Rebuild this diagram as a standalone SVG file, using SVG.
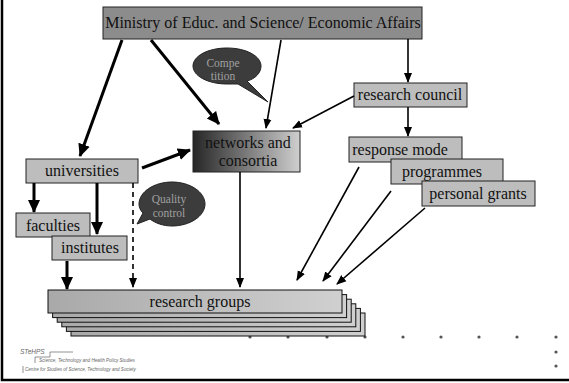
<svg xmlns="http://www.w3.org/2000/svg" width="569" height="383" viewBox="0 0 569 383">
<style>
.box{fill:#bdbdbd;stroke:#222;stroke-width:1}
.t{font-family:"Liberation Serif",serif;font-size:16px;fill:#111;text-anchor:middle}
.bt{font-family:"Liberation Serif",serif;font-size:11.5px;fill:#a0a0a0;text-anchor:middle}
.thick{stroke:#000;stroke-width:3;fill:none}
.thin{stroke:#000;stroke-width:1.6;fill:none}
.logo{font-family:"Liberation Sans",sans-serif;font-style:italic;fill:#666}
</style>
<defs>
<marker id="ah" markerUnits="userSpaceOnUse" markerWidth="14" markerHeight="14" refX="12" refY="6" orient="auto" viewBox="0 0 14 12"><path d="M0,0 L13,6 L0,12 z" fill="#000"/></marker>
<marker id="as" markerUnits="userSpaceOnUse" markerWidth="10" markerHeight="10" refX="9" refY="4" orient="auto" viewBox="0 0 10 8"><path d="M0,0 L10,4 L0,8 z" fill="#000"/></marker>
<linearGradient id="net" x1="0" y1="0" x2="1" y2="0"><stop offset="0" stop-color="#262626"/><stop offset="1" stop-color="#cfcfcf"/></linearGradient>
<linearGradient id="rg" x1="0" y1="0" x2="1" y2="0"><stop offset="0" stop-color="#a9a9a9"/><stop offset="1" stop-color="#d0d0d0"/></linearGradient>
</defs>
<rect width="569" height="383" fill="#fff"/>
<g id="frame"><path d="M2,0 V380 H569" stroke="#000" stroke-width="2.5" fill="none"/></g>
<g id="dots" fill="#555">
<circle cx="250" cy="337" r="1.6"/><circle cx="288" cy="337" r="1.6"/><circle cx="327" cy="337" r="1.6"/><circle cx="365" cy="337" r="1.6"/><circle cx="403" cy="337" r="1.6"/><circle cx="441" cy="337" r="1.6"/><circle cx="479" cy="337" r="1.6"/><circle cx="517" cy="337" r="1.6"/><circle cx="556" cy="337" r="1.6"/><circle cx="556" cy="352" r="1.6"/><circle cx="556" cy="366" r="1.6"/>
</g>
<g id="research-groups">
<rect x="71" y="313" width="294" height="23" fill="url(#rg)" stroke="#111"/>
<rect x="66.4" y="308.4" width="294" height="23" fill="url(#rg)" stroke="#111"/>
<rect x="61.8" y="303.8" width="294" height="23" fill="url(#rg)" stroke="#111"/>
<rect x="57.2" y="299.2" width="294" height="23" fill="url(#rg)" stroke="#111"/>
<rect x="52.6" y="294.6" width="294" height="23" fill="url(#rg)" stroke="#111"/>
<rect x="48" y="290" width="294" height="23" fill="url(#rg)" stroke="#111"/>
<text class="t" x="200" y="307">research groups</text>
</g>
<g id="ministry"><rect x="103" y="7" width="319" height="32" fill="#8c8c8c" stroke="#222"/><text class="t" x="263" y="28">Ministry of Educ. and Science/ Economic Affairs</text></g>
<g id="competition"><path d="M227,48 C246,48 261,56 261,66 C261,73 255,79 247,81 L268,102 L238,84 C234,84 231,84 227,84 C208,84 193,76 193,66 C193,56 208,48 227,48 z" fill="#3c3c3c" stroke="#222"/><text class="bt" x="223" y="67">Compe</text><text class="bt" x="223" y="80">tition</text></g>
<g id="networks"><rect x="193" y="131" width="107" height="41" fill="url(#net)" stroke="#222"/><text class="t" x="248" y="148">networks and</text><text class="t" x="248" y="166">consortia</text></g>
<g id="research-council"><rect x="354" y="83" width="113" height="24" class="box"/><text class="t" x="410" y="100">research council</text></g>
<g id="response-mode"><rect x="349" y="137" width="113" height="25" class="box"/><text class="t" x="400" y="155">response mode</text></g>
<g id="programmes"><rect x="391" y="159" width="112" height="25" class="box"/><text class="t" x="442" y="177">programmes</text></g>
<g id="personal-grants"><rect x="422" y="181" width="113" height="25" class="box"/><text class="t" x="478" y="199">personal grants</text></g>
<g id="universities"><rect x="26" y="159" width="112" height="24" class="box"/><text class="t" x="82" y="176">universities</text></g>
<g id="faculties"><rect x="16" y="213" width="74" height="24" class="box"/><text class="t" x="53" y="231">faculties</text></g>
<g id="institutes"><rect x="52" y="236" width="75" height="24" class="box"/><text class="t" x="90" y="253">institutes</text></g>
<g id="quality-control"><path d="M172,182 C190,182 205,192 205,204 C205,216 190,226 172,226 C163,226 155,223 150,219 L137,224 L143,213 C140,210 139,207 139,204 C139,192 154,182 172,182 z" fill="#3c3c3c" stroke="#222"/><text class="bt" x="169" y="203">Quality</text><text class="bt" x="169" y="217">control</text></g>
<g id="connectors">
<line class="thick" x1="122" y1="40" x2="80" y2="156" marker-end="url(#ah)"/>
<line class="thick" x1="151" y1="40" x2="219" y2="124" marker-end="url(#ah)"/>
<line class="thin" x1="281" y1="40" x2="266" y2="128" marker-end="url(#as)"/>
<line class="thin" x1="408" y1="39" x2="408" y2="82" marker-end="url(#as)"/>
<line class="thin" x1="354" y1="96" x2="293" y2="128" marker-end="url(#as)"/>
<line class="thin" x1="408" y1="107" x2="408" y2="136" marker-end="url(#as)"/>
<line class="thick" x1="142" y1="168" x2="190" y2="150" marker-end="url(#ah)"/>
<line class="thick" x1="34" y1="183" x2="34" y2="212" marker-end="url(#ah)"/>
<line class="thick" x1="97" y1="183" x2="97" y2="234" marker-end="url(#ah)"/>
<line class="thick" x1="67" y1="261" x2="67" y2="289" marker-end="url(#ah)"/>
<line class="thin" x1="133" y1="183" x2="133" y2="287" stroke-dasharray="5,4" marker-end="url(#as)"/>
<line class="thin" x1="240" y1="172" x2="240" y2="287" marker-end="url(#as)"/>
<line class="thin" x1="359" y1="167" x2="297" y2="280" marker-end="url(#as)"/>
<line class="thin" x1="391" y1="191" x2="323" y2="281" marker-end="url(#as)"/>
<line class="thin" x1="425" y1="208" x2="337" y2="284" marker-end="url(#as)"/>
</g>
<g id="logo">
<path d="M73,352 H50 V357 H35 V363 M23,366 V373" stroke="#777" stroke-width="0.8" fill="none"/>
<text class="logo" x="20" y="354" font-size="6.5" font-style="normal">STeHPS</text>
<text class="logo" x="39" y="362" font-size="4.6">Science, Technology and Health Policy Studies</text>
<text class="logo" x="25" y="371" font-size="4.6">Centre for Studies of Science, Technology and Society</text>
</g>
</svg>
